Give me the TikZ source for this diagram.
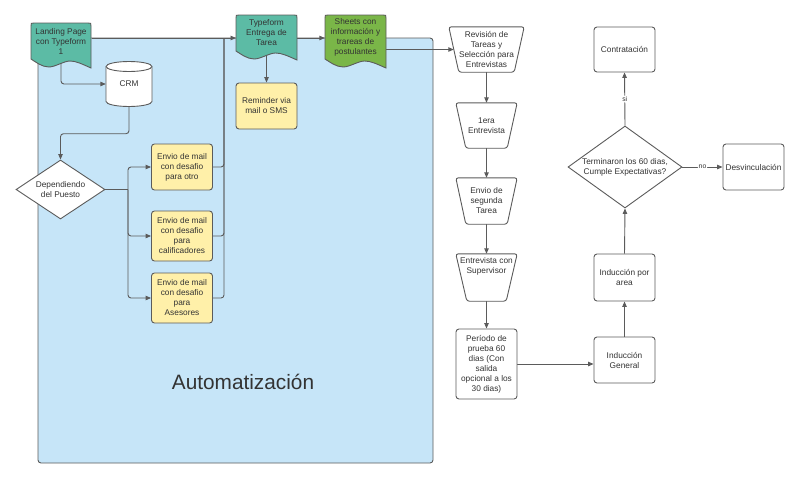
\documentclass[tikz,border=0pt]{standalone}
\usepackage{fontspec}
\setmainfont{Liberation Sans}
\usetikzlibrary{arrows.meta,shapes.geometric,calc}
\pgfdeclarelayer{back}
\pgfdeclarelayer{lines}
\pgfdeclarelayer{shapes}
\pgfsetlayers{back,lines,shapes,main}
\definecolor{edge}{HTML}{5B5B5B}
\definecolor{ink}{HTML}{333333}
\definecolor{cteal}{HTML}{5CBBA5}
\definecolor{cgreen}{HTML}{7AB648}
\definecolor{cyellow}{HTML}{FFF0A9}
\definecolor{cblue}{HTML}{C6E5F8}
% document shape: x0, x1, top, bottom (lowest point of wave), fill colour
\newcommand{\mydoc}[5]{%
  \filldraw[fill=#5,draw=edge,line width=0.9pt]
   (#1,#4-9) -- (#1,#3+3) .. controls (#1,#3) .. (#1+3,#3)
   -- (#2-3,#3) .. controls (#2,#3) .. (#2,#3+3) -- (#2,#4)
   .. controls ({#1+0.85*(#2-#1)},#4-4) and ({#1+0.75*(#2-#1)},#4-7) .. ({#1+0.65*(#2-#1)},#4-7)
   .. controls ({#1+0.55*(#2-#1)},#4-7) and ({#1+0.4*(#2-#1)},#4-1) .. ({#1+0.3*(#2-#1)},#4-1)
   .. controls ({#1+0.18*(#2-#1)},#4-1) and ({#1+0.08*(#2-#1)},#4-6) .. (#1,#4-9) -- cycle;}
\begin{document}
\begin{tikzpicture}[x=1pt,y=-1pt,
  txt/.style={font=\fontsize{8.3}{10}\selectfont, align=center, text=ink},
  box/.style={txt, draw=edge, line width=0.9pt, rounded corners=3pt,
    minimum width=61pt, minimum height=46pt, inner sep=1pt},
  ybox/.style={box, fill=cyellow},
  wbox/.style={box, fill=white},
  docnode/.style={txt, minimum width=61pt, inner sep=0pt},
  trapnode/.style={txt, minimum width=61pt, minimum height=45pt, inner sep=0pt},
  trapline/.style={fill=white, draw=edge, line width=0.9pt, rounded corners=2.5pt},
  dia/.style={diamond, draw=edge, fill=white, line width=0.9pt, inner sep=0pt},
  conn/.style={draw=edge, line width=0.9pt, rounded corners=3pt,
    -{Triangle[length=5.5pt,width=4.5pt]}},
  plain/.style={draw=edge, line width=0.9pt, rounded corners=3pt},
  lbl/.style={font=\fontsize{6.8}{8}\selectfont, text=ink, fill=white, inner sep=1pt}
]
\useasboundingbox (0,0) rectangle (800,479);

% container
\begin{pgfonlayer}{back}
  \filldraw[fill=cblue, draw=edge, line width=0.9pt, rounded corners=3pt] (38,38) rectangle (433,463);
\end{pgfonlayer}
\node[font=\fontsize{20.8}{24}\selectfont, text=ink] (aut) at (243,382) {Automatización};

% document shapes
\node[docnode, minimum height=36pt] (lp) at (61,41) {Landing Page\\con Typeform\\1};
\node[docnode, minimum height=36pt] (tf) at (266.5,33) {Typeform\\Entrega de\\Tarea};
\node[docnode, minimum height=44pt] (sh) at (355.5,37) {Sheets con\\información y\\trareas de\\postulantes};
\begin{pgfonlayer}{shapes}
  \mydoc{31}{91}{23}{68}{cteal}
  \mydoc{236}{297}{15}{60}{cteal}
  \mydoc{325}{386}{15}{68}{cgreen}
\end{pgfonlayer}

% CRM cylinder
\node[txt, minimum width=46pt, minimum height=45pt, inner sep=0pt] (crm) at (129,84) {CRM};
\begin{pgfonlayer}{shapes}
  \filldraw[fill=white, draw=edge, line width=0.9pt]
    (106,66.5) -- (106,101.5) arc[start angle=180, end angle=0, x radius=23, y radius=5]
    -- (152,66.5) arc[start angle=0, end angle=-180, x radius=23, y radius=5] -- cycle;
  \draw[edge, line width=0.9pt] (106,66.5) arc[start angle=180, end angle=0, x radius=23, y radius=5];
\end{pgfonlayer}

% decision
\node[dia, minimum width=89pt, minimum height=59pt,
  label={[txt]center:Dependiendo\\del Puesto}] (dp) at (60.5,189.5) {};

% yellow boxes
\node[ybox] (m1) at (182,167) {Envio de mail\\con desafio\\para otro};
\node[ybox, minimum height=50pt] (m2) at (182,236) {Envio de mail\\con desafio\\para\\calificadores};
\node[ybox, minimum height=50pt] (m3) at (182,298) {Envio de mail\\con desafio\\para\\Asesores};
\node[ybox] (rem) at (266.5,106) {Reminder via\\mail o SMS};

% trapezoids
\node[trapnode, minimum width=75pt] (rev) at (486.5,49.5) {Revisión de\\Tareas y\\Selección para\\Entrevistas};
\node[trapnode] (e1) at (486.5,125.5) {1era\\Entrevista};
\node[trapnode, minimum height=46pt] (e2) at (486.5,201) {Envio de\\segunda\\Tarea};
\node[trapnode, minimum height=47pt] (e3) at (486.5,277.5) {};
\node[txt, inner sep=0pt] (e3t) at (486.5,266) {Entrevista con\\Supervisor};
\begin{pgfonlayer}{shapes}
  \foreach \n/\o in {rev/10,e1/10,e2/10,e3/11}{
    \filldraw[trapline] (\n.north west) -- (\n.north east)
      -- ($(\n.south east)+(-\o,0)$) -- ($(\n.south west)+(\o,0)$) -- cycle;
  }
\end{pgfonlayer}

% right side boxes
\node[wbox, minimum height=70pt] (per) at (486.5,364) {Período de\\prueba 60\\dias (Con\\salida\\opcional a los\\30 dias)};
\node[wbox] (ig) at (624.5,360) {Inducción\\General};
\node[wbox, minimum height=47pt] (ipa) at (624.5,277.5) {Inducción por\\area};
\node[dia, minimum width=114pt, minimum height=82pt,
  label={[txt]center:Terminaron los 60 dias,\\Cumple Expectativas?}] (dec) at (625,167) {};
\node[wbox, minimum height=45pt] (con) at (624.5,49.5) {Contratación};
\node[wbox] (des) at (753.5,167) {Desvinculación};

\coordinate (br) at (128,189.5);
\coordinate (ju) at (224,38);
\coordinate (tfin) at (236,38);

\begin{pgfonlayer}{lines}
  \draw[conn] (lp.south) |- (crm.west);
  \draw[conn] (crm.south) -- ++(0,27) -| (dp.north);
  \draw[plain] (dp.east) -- (br);
  \draw[conn] (br) |- (m1.west);
  \draw[conn] (br) |- (m2.west);
  \draw[conn] (br) |- (m3.west);
  \draw[plain] (m1.east) -| (ju);
  \draw[plain] (m2.east) -| (ju);
  \draw[plain] (m3.east) -| (ju);
  \draw[conn] (lp.east |- tfin) -- (tfin);
  \draw[conn] (tf.south) -- (rem.north);
  \draw[conn] (tf.east |- tfin) -- (sh.west |- tfin);
  \draw[conn] (sh.east |- rev.west) -- ($(rev.west)+(5,0)$);
  \draw[conn] (rev.south) -- (e1.north);
  \draw[conn] (e1.south) -- (e2.north);
  \draw[conn] (e2.south) -- (e3.north);
  \draw[conn] (e3.south) -- (per.north);
  \draw[conn] (per.east) -- (ig.west |- per.east);
  \draw[conn] (ig.north) -- (ipa.south);
  \draw[conn] (ipa.north) -- (dec.south);
  \draw[conn] (dec.north) -- node[lbl] (si) {si} (con.south);
  \draw[conn] (dec.east) -- node[lbl] (no) {no} (des.west);
\end{pgfonlayer}
\end{tikzpicture}
\end{document}
